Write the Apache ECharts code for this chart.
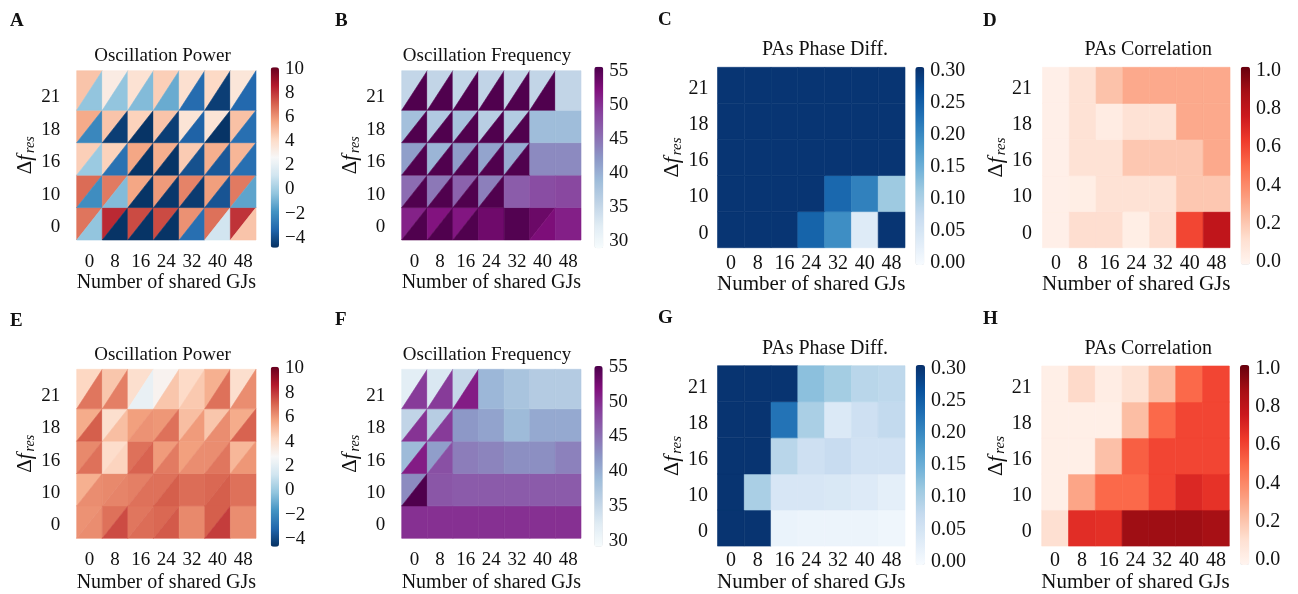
<!DOCTYPE html>
<html><head><meta charset="utf-8">
<script src="https://cdn.jsdelivr.net/npm/echarts@6/dist/echarts.min.js"></script>
<style>html,body{margin:0;padding:0;background:#fff}#c{width:1298px;height:594px}</style>
</head><body><div id="c"></div>
<script>
// ---------------- data ----------------
const xCategories = ['0','8','16','24','32','40','48'];
const yCategories = ['0','10','16','18','21']; // bottom -> top

const powerTicks = [-4,-2,0,2,4,6,8,10];
const freqTicks  = [30,35,40,45,50,55];
const phaseTicks = [0,0.05,0.10,0.15,0.20,0.25,0.30];
const corrTicks  = [0,0.2,0.4,0.6,0.8,1.0];

// rows listed bottom (Δf=0) to top (Δf=21); "upper" = upper-left triangle, "lower" = lower-right triangle
const powerA_upper = [
  [6.7, 8.3, 7.6, 7.6, 6.1, 6.8, 8.1],
  [6.9, 6.6, 5.6, 5.9, 6.4, 5.8, 6.6],
  [4.5, 4.4, 5.6, 5.4, 4.6, 5.4, 5.2],
  [5.5, 4.8, 4.4, 4.8, 3.7, 3.7, 4.9],
  [4.8, 3.3, 3.8, 4.5, 3.9, 4.2, 3.6]
];
const powerA_lower = [
  [-0.3, -4.7, -4.7, -4.7, -3.0, 1.2, 4.8],
  [-2.0, -0.6, -4.7, -4.6, -4.5, -3.8, -1.3],
  [-0.1, -2.9, -4.7, -4.7, -3.9, -3.7, -3.0],
  [-2.2, -4.4, -4.7, -4.4, -3.4, -4.7, -3.0],
  [-0.3, -0.3, -0.6, -1.1, -3.1, -4.4, -3.2]
];
const freqB_upper = [
  [51.0, 52.0, 51.8, 53.4, 55.2, 53.7, 51.2],
  [45.5, 44.6, 46.3, 44.0, 46.8, 48.0, 48.4],
  [41.5, 39.5, 41.7, 41.0, 40.3, 43.2, 43.2],
  [38.3, 37.0, 38.0, 36.3, 36.8, 38.8, 38.8],
  [35.2, 35.3, 35.2, 35.4, 35.2, 35.3, 35.3]
];
const freqB_lower = [
  [55.4, 55.4, 55.4, 53.4, 55.2, 52.5, 51.2],
  [55.4, 55.4, 55.4, 55.4, 46.8, 48.0, 48.4],
  [55.4, 55.4, 55.4, 55.4, 55.4, 43.2, 43.2],
  [55.4, 55.4, 55.4, 55.4, 55.4, 38.8, 38.8],
  [55.4, 55.4, 55.4, 55.4, 55.4, 55.4, 35.3]
];
const phaseC = [
  [0.30, 0.30, 0.30, 0.245, 0.195, 0.035, 0.30],
  [0.30, 0.30, 0.30, 0.30, 0.24, 0.21, 0.113],
  [0.30, 0.30, 0.30, 0.30, 0.30, 0.30, 0.30],
  [0.30, 0.30, 0.30, 0.30, 0.30, 0.30, 0.30],
  [0.30, 0.30, 0.30, 0.30, 0.30, 0.30, 0.30]
];
const corrD = [
  [0.02, 0.12, 0.12, 0.03, 0.12, 0.60, 0.80],
  [0.02, 0.03, 0.10, 0.10, 0.10, 0.20, 0.20],
  [0.02, 0.10, 0.10, 0.20, 0.20, 0.20, 0.30],
  [0.02, 0.10, 0.04, 0.10, 0.10, 0.30, 0.30],
  [0.02, 0.10, 0.22, 0.30, 0.30, 0.30, 0.30]
];
const powerE_upper = [
  [6.1, 6.8, 6.7, 7.0, 6.3, 7.2, 6.2],
  [5.4, 6.3, 6.5, 6.8, 6.9, 7.0, 6.8],
  [6.3, 4.1, 6.8, 5.9, 5.8, 6.2, 5.2],
  [5.5, 4.0, 5.8, 6.0, 5.0, 4.8, 5.5],
  [4.3, 4.8, 4.0, 3.0, 4.2, 5.4, 4.0]
];
const powerE_lower = [
  [6.2, 7.6, 6.9, 7.3, 6.3, 7.9, 6.2],
  [6.2, 6.4, 6.8, 7.2, 6.9, 7.2, 6.8],
  [6.8, 4.4, 7.1, 6.6, 6.2, 6.7, 6.0],
  [7.2, 5.0, 6.1, 6.8, 5.9, 6.2, 7.1],
  [6.7, 6.5, 2.2, 4.8, 4.7, 6.8, 6.2]
];
const freqF_upper = [
  [49.7, 49.7, 49.7, 49.7, 49.7, 49.7, 49.7],
  [43.0, 47.0, 46.6, 46.6, 46.6, 46.6, 46.6],
  [39.0, 41.5, 44.0, 43.5, 42.7, 42.7, 43.7],
  [35.5, 36.5, 42.0, 41.0, 39.0, 40.5, 40.5],
  [32.0, 33.0, 35.0, 39.3, 37.8, 36.8, 36.8]
];
const freqF_lower = [
  [49.7, 49.7, 49.7, 49.7, 49.7, 49.7, 49.7],
  [55.0, 47.0, 46.6, 46.6, 46.6, 46.6, 46.6],
  [51.0, 47.5, 44.0, 43.5, 42.7, 42.7, 43.7],
  [49.5, 49.0, 42.0, 41.0, 39.0, 40.5, 40.5],
  [49.0, 49.0, 51.0, 39.3, 37.8, 36.8, 36.8]
];
const phaseG = [
  [0.30, 0.30, 0.015, 0.012, 0.012, 0.012, 0.008],
  [0.30, 0.10, 0.045, 0.045, 0.042, 0.035, 0.025],
  [0.30, 0.30, 0.085, 0.060, 0.070, 0.055, 0.055],
  [0.30, 0.30, 0.225, 0.100, 0.038, 0.060, 0.075],
  [0.30, 0.30, 0.30, 0.125, 0.105, 0.085, 0.080]
];
const corrH = [
  [0.11, 0.68, 0.67, 0.90, 0.90, 0.90, 0.88],
  [0.02, 0.31, 0.50, 0.50, 0.60, 0.70, 0.66],
  [0.02, 0.02, 0.22, 0.53, 0.60, 0.60, 0.60],
  [0.02, 0.02, 0.02, 0.23, 0.50, 0.60, 0.60],
  [0.02, 0.13, 0.03, 0.10, 0.23, 0.50, 0.60]
];

// ---------------- colormaps ----------------
const RdBu_r = ['#053061','#2166ac','#4393c3','#92c5de','#d1e5f0','#f7f7f7','#fddbc7','#f4a582','#d6604d','#b2182b','#67001f'];
const BuPu = ['#f7fcfd','#e0ecf4','#bfd3e6','#9ebcda','#8c96c6','#8c6bb1','#88419d','#810f7c','#4d004b'];
const Blues = ['#f7fbff','#deebf7','#c6dbef','#9ecae1','#6baed6','#4292c6','#2171b5','#08519c','#08306b'];
const Reds = ['#fff5f0','#fee0d2','#fcbba1','#fc9272','#fb6a4a','#ef3b2c','#cb181d','#a50f15','#67000d'];

// ---------------- layout ----------------
const FONT = '"Liberation Serif","DejaVu Serif",serif';
const TXT = '#111';
const fmtPower = v => v < 0 ? '\u2212' + Math.abs(v) : String(v);
const fmtInt = v => String(Math.round(v));
const fmt2 = v => v.toFixed(2);
const fmt1 = v => v.toFixed(1);

const panels = [
  {letter:'A', title:'Oscillation Power', upper:powerA_upper, lower:powerA_lower, cmap:RdBu_r, range:[-4.8,10.15], ticks:powerTicks, fmt:fmtPower,
   plot:[76.7,70.7,179.3,169.3], bar:[270.7,67.3,8.3,180.4], tickY:[69,237.7], top:5.22, fs:19, nfs:20,
   xLM:12.2, xNG:33, yLM:16.5, yNG:38, L:[10,21], T:[162.5,56.3]},
  {letter:'B', title:'Oscillation Frequency', upper:freqB_upper, lower:freqB_lower, cmap:BuPu, range:[28.9,55.6], ticks:freqTicks, fmt:fmtInt,
   plot:[401.7,70.7,179.3,169.3], bar:[594.3,66.7,9,181.6], tickY:[70.7,240.7], top:5.22, fs:19, nfs:20,
   xLM:12.2, xNG:33, yLM:16.5, yNG:38, L:[335,21], T:[487,56.3]},
  {letter:'C', title:'PAs Phase Diff.', full:phaseC, cmap:Blues, range:[-0.003,0.306], ticks:phaseTicks, fmt:fmt2,
   plot:[717.5,67.3,187.5,180.4], bar:[915.3,67,9,198], tickY:[71,263], top:5, fs:20, nfs:21,
   xLM:5.6, xNG:25, yLM:9, yNG:29, L:[658,20], T:[825,50]},
  {letter:'D', title:'PAs Correlation', full:corrD, cmap:Reds, range:[-0.016,1.02], ticks:corrTicks, fmt:fmt1,
   plot:[1042.5,67.3,187.5,180.4], bar:[1240.7,66.7,9.3,198], tickY:[70.7,261.7], top:5, fs:20, nfs:21,
   xLM:5.6, xNG:24.5, yLM:10.5, yNG:29, L:[983,20.8], T:[1148.3,50]},
  {letter:'E', title:'Oscillation Power', upper:powerE_upper, lower:powerE_lower, cmap:RdBu_r, range:[-4.65,10.13], ticks:powerTicks, fmt:fmtPower,
   plot:[76.7,369.3,179.3,169], bar:[270.7,366.7,8.3,180], tickY:[368.3,539.3], top:5.22, fs:19, nfs:20,
   xLM:12.2, xNG:34.7, yLM:16.5, yNG:38, L:[10,321], T:[162.5,355]},
  {letter:'F', title:'Oscillation Frequency', upper:freqF_upper, lower:freqF_lower, cmap:BuPu, range:[29.2,55.1], ticks:freqTicks, fmt:fmtInt,
   plot:[401.7,369.3,179.3,169], bar:[594.3,366,8.4,180.7], tickY:[366.7,541], top:5.22, fs:19, nfs:20,
   xLM:12.2, xNG:34.7, yLM:16.5, yNG:38, L:[335,320], T:[487,355.5]},
  {letter:'G', title:'PAs Phase Diff.', full:phaseG, cmap:Blues, range:[-0.005,0.305], ticks:phaseTicks, fmt:fmt2,
   plot:[717.5,365.7,187.5,181], bar:[915.7,365,9.3,200], tickY:[368.3,561.7], top:5, fs:20, nfs:21,
   xLM:5, xNG:24.5, yLM:9.4, yNG:28, L:[658,318.3], T:[825,348.3]},
  {letter:'H', title:'PAs Correlation', full:corrH, cmap:Reds, range:[-0.02,1.017], ticks:corrTicks, fmt:fmt1,
   plot:[1041.7,366,187.6,180.7], bar:[1240,365,9.3,200], tickY:[368.3,560], top:5, fs:20, nfs:21,
   xLM:5, xNG:24, yLM:10, yNG:29, L:[983,319], T:[1148.3,348.3]}
];

// label placed on the tick at fraction `frac` of each unit cell
function cellFormatter(labels, frac) {
  return function (v) {
    const f = Math.floor(v + 1e-6);
    if (Math.abs(v - f - frac) < 1e-4 && f >= 0 && f < labels.length) return labels[f];
    return '';
  };
}

function makeRenderItem(nRows, topEdge) {
  return function (params, api) {
    const c = api.value(0), r = api.value(1), part = api.value(3);
    const top = (r === nRows - 1) ? topEdge : r + 1;
    const p0 = api.coord([c, r]);
    const p1 = api.coord([c + 1, top]);
    const x0 = p0[0], y0 = p0[1], x1 = p1[0], y1 = p1[1];
    let pts;
    if (part === 0) pts = [[x0, y0], [x0, y1], [x1, y1]];
    else if (part === 1) pts = [[x0, y0], [x1, y1], [x1, y0]];
    else pts = [[x0, y0], [x0, y1], [x1, y1], [x1, y0]];
    const color = api.visual('color');
    return {type: 'polygon', shape: {points: pts}, style: {fill: color, stroke: color, lineWidth: 0.6}};
  };
}

const option = {backgroundColor: '#fff', animation: false, grid: [], xAxis: [], yAxis: [], series: [], visualMap: [], graphic: []};

panels.forEach((p, i) => {
  const gPlot = option.grid.length;
  option.grid.push({left: p.plot[0], top: p.plot[1], width: p.plot[2], height: p.plot[3]});
  const gBar = option.grid.length;
  option.grid.push({left: p.bar[0] + p.bar[2] - 1, top: p.tickY[0], width: 1, height: p.tickY[1] - p.tickY[0]});

  const lblStyle = {color: TXT, fontFamily: FONT, fontSize: p.fs};
  const subFs = Math.round(p.nfs * 0.72);
  option.xAxis.push({
    type: 'value', gridIndex: gPlot, min: 0, max: xCategories.length, interval: 0.5,
    axisLine: {show: false}, axisTick: {show: false}, splitLine: {show: false},
    axisLabel: Object.assign({margin: p.xLM, formatter: cellFormatter(xCategories, 0.5)}, lblStyle),
    name: 'Number of shared GJs', nameLocation: 'middle', nameGap: p.xNG,
    nameTextStyle: {color: TXT, fontFamily: FONT, fontSize: p.nfs}
  });
  option.yAxis.push({
    type: 'value', gridIndex: gPlot, min: 0, max: p.top, interval: 0.1,
    axisLine: {show: false}, axisTick: {show: false}, splitLine: {show: false},
    axisLabel: Object.assign({margin: p.yLM, formatter: cellFormatter(yCategories, 0.4)}, lblStyle),
    name: '{d|\u0394}{f|f}{s|res}', nameLocation: 'middle', nameRotate: 90, nameGap: p.yNG,
    nameTextStyle: {color: TXT, fontFamily: FONT, fontSize: p.nfs + 1, rich: {
      d: {color: TXT, fontFamily: FONT, fontSize: p.nfs + 1, lineHeight: 24},
      f: {color: TXT, fontFamily: FONT, fontSize: p.nfs + 1, fontStyle: 'italic', lineHeight: 24, padding: [0, 2, 0, 0]},
      s: {color: TXT, fontFamily: FONT, fontSize: subFs, fontStyle: 'italic', lineHeight: 12, verticalAlign: 'bottom'}
    }}
  });
  // colorbar tick axis
  const t = p.ticks;
  option.xAxis.push({type: 'value', gridIndex: gBar, show: false, min: 0, max: 1});
  option.yAxis.push({
    type: 'value', gridIndex: gBar, position: 'right', min: t[0], max: t[t.length - 1], interval: t[1] - t[0],
    axisLine: {show: false}, axisTick: {show: false}, splitLine: {show: false},
    axisLabel: Object.assign({margin: 6, formatter: p.fmt, showMinLabel: true, showMaxLabel: true}, lblStyle)
  });

  // data: one item per triangle, or one per cell when both halves carry the same value
  const data = [];
  const nRows = yCategories.length;
  for (let r = 0; r < nRows; r++) {
    for (let c = 0; c < xCategories.length; c++) {
      if (p.full) data.push([c, r, p.full[r][c], 2]);
      else if (p.upper[r][c] === p.lower[r][c]) data.push([c, r, p.upper[r][c], 2]);
      else {
        data.push([c, r, p.upper[r][c], 0]);
        data.push([c, r, p.lower[r][c], 1]);
      }
    }
  }
  option.series.push({
    type: 'custom', coordinateSystem: 'cartesian2d', xAxisIndex: gPlot, yAxisIndex: gPlot,
    renderItem: makeRenderItem(nRows, p.top), data: data, encode: {x: 0, y: 1}, silent: true, clip: false
  });
  option.visualMap.push({
    type: 'continuous', seriesIndex: i, dimension: 2, min: p.range[0], max: p.range[1],
    inRange: {color: p.cmap}, left: p.bar[0], top: p.bar[1], itemWidth: p.bar[2], itemHeight: p.bar[3],
    calculable: false, hoverLink: false, padding: 0, orient: 'vertical', text: null, show: true
  });

  option.graphic.push({type: 'text', x: p.T[0], y: p.T[1], silent: true,
    style: {text: p.title, fontFamily: FONT, fontSize: p.fs, fill: TXT, align: 'center', verticalAlign: 'middle', textAlign: 'center', textVerticalAlign: 'middle'}});
  option.graphic.push({type: 'text', x: p.L[0], y: p.L[1], silent: true,
    style: {text: p.letter, fontFamily: FONT, fontSize: 19, fontWeight: 'bold', fill: TXT, align: 'left', verticalAlign: 'middle', textAlign: 'left', textVerticalAlign: 'middle'}});
});

const chart = echarts.init(document.getElementById('c'), null, {renderer: 'canvas'});
chart.setOption(option);
</script>
</body></html>
